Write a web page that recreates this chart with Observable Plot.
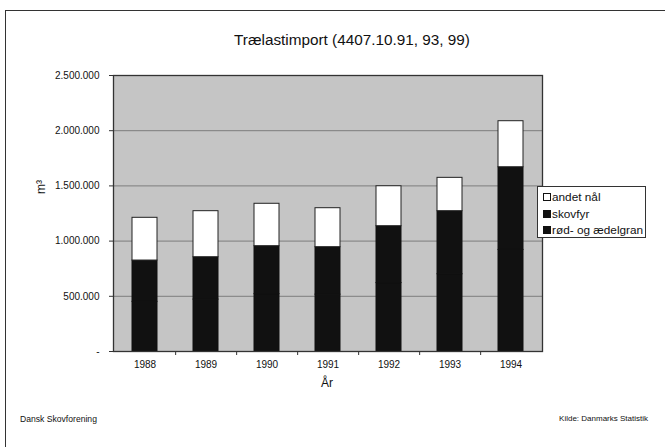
<!DOCTYPE html>
<html>
<head>
<meta charset="utf-8">
<script src="https://cdn.jsdelivr.net/npm/d3@7"></script>
<script src="https://cdn.jsdelivr.net/npm/@observablehq/plot@0.6"></script>
<style>
  html, body { margin: 0; padding: 0; background: #fff; overflow: hidden; }
  body { width: 665px; height: 447px; position: relative; font-family: "Liberation Sans", Arial, sans-serif; color: #111; }
  #frame { position: absolute; left: 5px; top: 10px; width: 660px; height: 437px; border-left: 1px solid #333; border-top: 1px solid #333; box-sizing: border-box; }
  #chart { position: absolute; left: 0; top: 0; }
  .lbl { position: absolute; white-space: nowrap; line-height: 1; }
  #legend { position: absolute; left: 537px; top: 186px; width: 109px; height: 52px; border: 1px solid #333; background: #fff; box-sizing: border-box; }
  .item { position: absolute; left: 5px; font-size: 11.8px; line-height: 1; white-space: nowrap; }
  .sw { display: inline-block; width: 6px; height: 6px; border: 1px solid #111; margin-right: 1px; vertical-align: 0px; }
</style>
</head>
<body>
<div id="frame"></div>
<div id="chart"></div>
<div class="lbl" style="left:352px; top:32px; font-size:15.3px; transform:translateX(-50%);">Trælastimport (4407.10.91, 93, 99)</div>
<div class="lbl" style="left:327px; top:377px; font-size:12px; transform:translateX(-50%);">År</div>
<div class="lbl" style="left:41px; top:187px; font-size:12px; transform:translate(-50%,-50%) rotate(-90deg);">m³</div>
<div class="lbl" style="left:20px; top:415px; font-size:8.6px;">Dansk Skovforening</div>
<div class="lbl" style="right:17px; top:415px; font-size:8px;">Kilde: Danmarks Statistik</div>
<div id="legend"></div>
<script>
const years = ["1988", "1989", "1990", "1991", "1992", "1993", "1994"];
const seriesNames = ["rød- og ædelgran", "skovfyr", "andet nål"];
const roedOgAedelgran = [450000, 470000, 520000, 515000, 620000, 700000, 920000];
const skovfyr = [374000, 384000, 434000, 430000, 515000, 571000, 749000];
const andetNaal = [387000, 417000, 384000, 353000, 362000, 302000, 417000];
const seriesColors = ["#111111", "#111111", "#ffffff"];
const yTicks = [0, 500000, 1000000, 1500000, 2000000, 2500000];

const seriesValues = [roedOgAedelgran, skovfyr, andetNaal];
const data = [];
seriesNames.forEach((s, si) => years.forEach((yr, i) => data.push({year: yr, series: s, value: seriesValues[si][i]})));

const loc = d3.formatLocale({decimal: ",", thousands: ".", grouping: [3], currency: ["", " kr"]});
const fmt = loc.format(",");

const W = 665, H = 447;
const mL = 113, mR = 123, mT = 75, mB = 96;
const step = (W - mL - mR) / years.length;

const chart = Plot.plot({
  width: W, height: H,
  marginLeft: mL, marginRight: mR, marginTop: mT, marginBottom: mB,
  style: {background: "transparent", fontFamily: "Liberation Sans, Arial, sans-serif", color: "#111"},
  x: {domain: years, paddingInner: 0.59, paddingOuter: 0.295, label: null},
  y: {domain: [0, 2500000], label: null},
  color: {domain: seriesNames, range: seriesColors},
  marks: [
    Plot.frame({fill: "#c5c5c5", stroke: "none"}),
    Plot.ruleY(yTicks.filter(v => v > 0 && v < 2500000), {y: d => d, stroke: "#7d7d7d", strokeWidth: 1}),
    Plot.barY(data, {x: "year", y: "value", fill: "series", order: seriesNames,
      stroke: d => d.series === "andet nål" ? "#222" : "#111", strokeWidth: 1}),
    Plot.frame({stroke: "#333", strokeWidth: 1.3}),
    Plot.axisY(yTicks, {tickSize: 4, tickPadding: 10, fontSize: 10, stroke: "#333",
      tickFormat: d => d === 0 ? "-" : fmt(d)}),
    Plot.axisX(years, {tickSize: 0, tickPadding: 9, fontSize: 10, label: null}),
    Plot.ruleX(years.slice(0, -1), {x: d => d, dx: step / 2, y1: 0, y2: 0, insetBottom: -4, stroke: "#333"})
  ]
});
document.getElementById("chart").appendChild(chart);

const legend = document.getElementById("legend");
const legendOrder = ["andet nål", "skovfyr", "rød- og ædelgran"];
legendOrder.forEach((name, i) => {
  const it = document.createElement("div");
  it.className = "item";
  it.style.top = (5 + i * 16.5) + "px";
  const sw = document.createElement("span");
  sw.className = "sw";
  sw.style.background = seriesColors[seriesNames.indexOf(name)];
  it.appendChild(sw);
  it.appendChild(document.createTextNode(name));
  legend.appendChild(it);
});
</script>
</body>
</html>
